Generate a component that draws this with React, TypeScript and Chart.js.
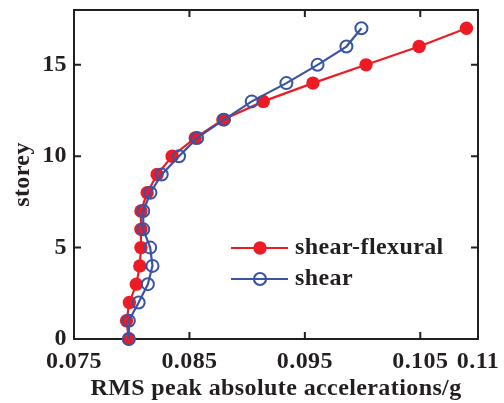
import React, { useEffect, useRef } from "react";
import { Chart, registerables } from "chart.js";
Chart.register(...registerables);

const storeys = [0, 1, 2, 3, 4, 5, 6, 7, 8, 9, 10, 11, 12, 13, 14, 15, 16, 17];
const shearFlexural = [0.07975, 0.07955, 0.0798, 0.0804, 0.0807, 0.0808, 0.0808, 0.0808, 0.08134, 0.0822, 0.0835, 0.0855, 0.0879, 0.0914, 0.0957, 0.1003, 0.1049, 0.109];
const shear = [0.07975, 0.07975, 0.0806, 0.0814, 0.0818, 0.0816, 0.081, 0.081, 0.08162, 0.0826, 0.0841, 0.08567, 0.088, 0.0904, 0.0934, 0.0961, 0.0986, 0.0999];
const xTicks = [0.075, 0.085, 0.095, 0.105, 0.11];
const yTicks = [0, 5, 10, 15];
const seriesNames = ["shear-flexural", "shear"];

const RED = "#ED1C24";
const BLUE = "#3A54A4";
const INK = "#231F20";
const FONT = '"Liberation Serif", "Times New Roman", serif';

const spacingPlugin = {
  id: "spacing",
  beforeDraw(chart: any) {
    try {
      (chart.ctx as any).letterSpacing = "0.4px";
    } catch (e) {}
  },
};

const framePlugin = {
  id: "frame",
  beforeDatasetsDraw(chart: any) {
    const { ctx, chartArea: a, scales } = chart;
    ctx.save();
    ctx.strokeStyle = INK;
    ctx.lineWidth = 2;
    ctx.strokeRect(a.left, a.top, a.right - a.left, a.bottom - a.top);
    const tl = 7;
    ctx.beginPath();
    xTicks.forEach((v) => {
      const px = scales.x.getPixelForValue(v);
      ctx.moveTo(px, a.bottom);
      ctx.lineTo(px, a.bottom - tl);
      ctx.moveTo(px, a.top);
      ctx.lineTo(px, a.top + tl);
    });
    yTicks.forEach((v) => {
      const py = scales.y.getPixelForValue(v);
      ctx.moveTo(a.left, py);
      ctx.lineTo(a.left + tl, py);
      ctx.moveTo(a.right, py);
      ctx.lineTo(a.right - tl, py);
    });
    ctx.stroke();
    ctx.restore();
  },
};

const legendPlugin = {
  id: "customLegend",
  afterDraw(chart: any) {
    const { ctx } = chart;
    const rows = [
      { label: seriesNames[0], color: RED, filled: true, y: 248 },
      { label: seriesNames[1], color: BLUE, filled: false, y: 279 },
    ];
    ctx.save();
    rows.forEach((r) => {
      ctx.strokeStyle = r.color;
      ctx.lineWidth = 2.2;
      ctx.beginPath();
      ctx.moveTo(231, r.y);
      ctx.lineTo(288, r.y);
      ctx.stroke();
      ctx.beginPath();
      ctx.arc(260, r.y, r.filled ? 6.7 : 6, 0, Math.PI * 2);
      if (r.filled) {
        ctx.fillStyle = r.color;
        ctx.fill();
      } else {
        ctx.stroke();
      }
      ctx.fillStyle = INK;
      ctx.font = `bold 24px ${FONT}`;
      ctx.textBaseline = "middle";
      ctx.textAlign = "left";
      ctx.fillText(r.label, 295, r.y);
    });
    ctx.restore();
  },
};

const tickFont = { family: FONT, size: 24, weight: "bold" as const };

export default function App() {
  const ref = useRef<HTMLCanvasElement>(null);
  useEffect(() => {
    if (!ref.current) return;
    const chart = new Chart(ref.current, {
      type: "line",
      data: {
        datasets: [
          {
            label: seriesNames[0],
            data: storeys.map((s, i) => ({ x: shearFlexural[i], y: s })),
            borderColor: RED,
            backgroundColor: RED,
            borderWidth: 2.2,
            pointRadius: 6.7,
            pointBorderWidth: 0,
            pointBackgroundColor: RED,
            pointBorderColor: RED,
            clip: false as any,
            order: 2,
          },
          {
            label: seriesNames[1],
            data: storeys.map((s, i) => ({ x: shear[i], y: s })),
            borderColor: BLUE,
            backgroundColor: "rgba(0,0,0,0)",
            borderWidth: 2.2,
            pointRadius: 6,
            pointBorderWidth: 2,
            pointBackgroundColor: "rgba(0,0,0,0)",
            pointBorderColor: BLUE,
            clip: false as any,
            order: 1,
          },
        ],
      },
      options: {
        animation: false,
        responsive: true,
        maintainAspectRatio: false,
        layout: { padding: { top: 10, right: 26, bottom: 0, left: 0 } },
        plugins: { legend: { display: false }, tooltip: { enabled: false } },
        scales: {
          x: {
            type: "linear",
            min: 0.075,
            max: 0.11,
            grid: { display: false, drawTicks: false },
            border: { display: false },
            afterBuildTicks: (s: any) => {
              s.ticks = xTicks.map((v) => ({ value: v }));
            },
            afterFit: (s: any) => {
              s.height = 64;
              s.paddingLeft = 0;
              s.paddingRight = 0;
            },
            ticks: {
              autoSkip: false,
              maxRotation: 0,
              padding: 8,
              color: INK,
              font: tickFont,
              callback: (v: any) => String(v),
            },
            title: {
              display: true,
              text: "RMS peak absolute accelerations/g",
              color: INK,
              font: tickFont,
              padding: { top: 0, bottom: 0 },
            },
          },
          y: {
            type: "linear",
            min: 0,
            max: 18,
            grid: { display: false, drawTicks: false },
            border: { display: false },
            afterBuildTicks: (s: any) => {
              s.ticks = yTicks.map((v) => ({ value: v }));
            },
            afterFit: (s: any) => {
              s.width = 74;
              s.paddingTop = 0;
              s.paddingBottom = 0;
            },
            ticks: {
              autoSkip: false,
              padding: 7,
              color: INK,
              font: tickFont,
              callback: (v: any) => String(v),
            },
            title: {
              display: true,
              text: "storey",
              color: INK,
              font: tickFont,
              padding: { top: 8, bottom: 0 },
            },
          },
        },
      },
      plugins: [spacingPlugin, framePlugin, legendPlugin],
    });
    return () => chart.destroy();
  }, []);
  return (
    <div style={{ position: "fixed", left: 0, top: 0, width: 504, height: 403, background: "#fff" }}>
      <canvas ref={ref} />
    </div>
  );
}
